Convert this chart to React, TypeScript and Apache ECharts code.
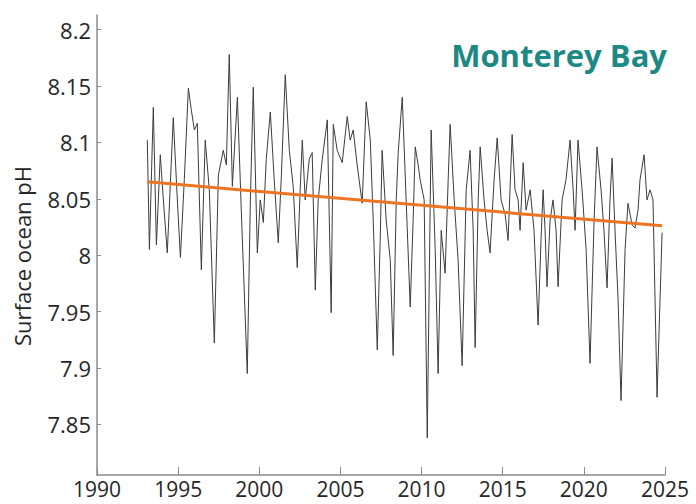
import React, { useEffect, useRef } from "react";
import * as echarts from "echarts";

// Monthly-ish surface pH readings, Monterey Bay
const years = [
  1993.10, 1993.23, 1993.47, 1993.66, 1993.90, 1994.09, 1994.33, 1994.70, 1994.95, 1995.14,
  1995.38, 1995.63, 1995.81, 1996.00, 1996.18, 1996.43, 1996.67, 1996.92, 1997.23, 1997.48,
  1997.78, 1997.97, 1998.15, 1998.34, 1998.65, 1998.89, 1999.26, 1999.45, 1999.63, 1999.88,
  2000.06, 2000.25, 2000.43, 2000.68, 2000.92, 2001.17, 2001.35, 2001.60, 2001.85, 2002.09,
  2002.34, 2002.52, 2002.65, 2002.83, 2003.08, 2003.26, 2003.45, 2003.63, 2003.88, 2004.19,
  2004.43, 2004.56, 2004.80, 2005.11, 2005.42, 2005.60, 2005.79, 2006.03, 2006.34, 2006.59,
  2006.84, 2007.02, 2007.27, 2007.45, 2007.57, 2007.82, 2008.07, 2008.25, 2008.44, 2008.56,
  2008.81, 2009.05, 2009.30, 2009.48, 2009.61, 2009.79, 2009.91, 2010.16, 2010.35, 2010.59,
  2010.84, 2011.02, 2011.21, 2011.45, 2011.64, 2011.76, 2012.01, 2012.25, 2012.50, 2012.75,
  2012.99, 2013.18, 2013.30, 2013.49, 2013.61, 2013.85, 2014.04, 2014.22, 2014.47, 2014.66,
  2014.90, 2015.15, 2015.33, 2015.58, 2015.76, 2015.95, 2016.07, 2016.26, 2016.44, 2016.69,
  2016.93, 2017.18, 2017.36, 2017.49, 2017.61, 2017.73, 2017.92, 2018.10, 2018.29, 2018.41,
  2018.66, 2018.90, 2019.15, 2019.34, 2019.46, 2019.64, 2019.89, 2020.14, 2020.38, 2020.63,
  2020.81, 2021.06, 2021.24, 2021.43, 2021.61, 2021.74, 2021.92, 2022.11, 2022.29, 2022.54,
  2022.72, 2022.97, 2023.15, 2023.34, 2023.46, 2023.71, 2023.89, 2024.08, 2024.26, 2024.51,
  2024.82,
];

const ph = [
  8.102, 8.005, 8.131, 8.009, 8.089, 8.049, 8.002, 8.122, 8.049, 7.998,
  8.067, 8.148, 8.129, 8.111, 8.117, 7.987, 8.102, 8.058, 7.922, 8.071,
  8.093, 8.080, 8.178, 8.061, 8.140, 8.040, 7.895, 8.049, 8.149, 8.002,
  8.049, 8.029, 8.085, 8.127, 8.067, 8.011, 8.067, 8.160, 8.093, 8.061,
  7.989, 8.058, 8.102, 8.049, 8.085, 8.091, 7.969, 8.049, 8.085, 8.120,
  7.949, 8.116, 8.093, 8.082, 8.123, 8.102, 8.111, 8.080, 8.046, 8.136,
  8.102, 8.031, 7.916, 8.013, 8.093, 8.031, 7.996, 7.911, 8.049, 8.091,
  8.140, 8.049, 7.954, 8.031, 8.096, 8.080, 8.067, 8.049, 7.838, 8.111,
  8.005, 7.895, 8.022, 7.984, 8.067, 8.116, 8.049, 7.996, 7.902, 8.058,
  8.093, 8.022, 7.918, 8.049, 8.096, 8.049, 8.022, 8.002, 8.067, 8.104,
  8.049, 8.036, 8.013, 8.107, 8.058, 8.049, 8.022, 8.082, 8.040, 8.058,
  8.022, 7.938, 8.013, 8.058, 8.022, 7.972, 8.031, 8.049, 8.022, 7.972,
  8.049, 8.067, 8.102, 8.058, 8.022, 8.102, 8.058, 8.005, 7.904, 8.031,
  8.096, 8.058, 8.022, 7.971, 8.049, 8.086, 8.022, 7.960, 7.871, 8.005,
  8.046, 8.027, 8.024, 8.040, 8.067, 8.089, 8.049, 8.058, 8.049, 7.874,
  8.020,
];

const trendYears = [1993.1, 2024.82];
const trendPh = [8.065, 8.026];

const yTicks = [7.85, 7.9, 7.95, 8, 8.05, 8.1, 8.15, 8.2];

const TITLE = "Monterey Bay";
const Y_NAME = "Surface ocean pH";

export default function App() {
  const ref = useRef<HTMLDivElement>(null);

  useEffect(() => {
    if (!ref.current) return;
    const chart = echarts.init(ref.current, null, { renderer: "svg" });
    const axisColor = "#8a8a8a";
    const labelStyle = {
      color: "#262626",
      fontSize: 22,
      fontFamily: "Open Sans",
    };
    chart.setOption({
      animation: false,
      backgroundColor: "#ffffff",
      grid: { left: 97, right: 31, top: 15, bottom: 29 },
      xAxis: {
        type: "value",
        min: 1990,
        max: 2025,
        interval: 5,
        axisLine: { show: true, lineStyle: { color: axisColor, width: 1.5 } },
        axisTick: { show: true, inside: true, length: 8, lineStyle: { color: axisColor } },
        axisLabel: {
          ...labelStyle,
          fontSize: 21,
          lineHeight: 21,
          margin: 3,
          formatter: (v: number) => String(v),
        },
        splitLine: { show: false },
      },
      yAxis: {
        type: "value",
        min: 7.805,
        max: 8.213,
        axisLine: { show: true, lineStyle: { color: axisColor, width: 1.5 } },
        axisTick: {
          show: true,
          inside: true,
          length: 4,
          customValues: yTicks,
          lineStyle: { color: axisColor },
        },
        axisLabel: {
          ...labelStyle,
          margin: 6,
          customValues: yTicks,
          formatter: (v: number) => String(+v.toFixed(2)),
        },
        splitLine: { show: false },
      },
      graphic: [
        {
          type: "text",
          x: 667,
          y: 55,
          style: {
            text: TITLE,
            fill: "#1d8884",
            font: "bold 31px 'Open Sans'",
            textAlign: "right",
            textVerticalAlign: "middle",
          },
        },
        {
          type: "text",
          x: 22,
          y: 256,
          rotation: Math.PI / 2,
          style: {
            text: Y_NAME,
            fill: "#262626",
            font: "22px 'Open Sans'",
            textAlign: "center",
            textVerticalAlign: "middle",
          },
        },
      ],
      series: [
        {
          type: "line",
          data: years.map((y, i) => [y, ph[i]]),
          showSymbol: false,
          symbol: "none",
          lineStyle: { color: "#3c3c3c", width: 1 },
          z: 2,
        },
        {
          type: "line",
          data: trendYears.map((y, i) => [y, trendPh[i]]),
          showSymbol: false,
          symbol: "none",
          lineStyle: { color: "#ec7422", width: 3 },
          z: 3,
        },
      ],
    });
    return () => chart.dispose();
  }, []);

  return (
    <div
      ref={ref}
      style={{ position: "fixed", left: 0, top: 0, width: 696, height: 504 }}
    />
  );
}
